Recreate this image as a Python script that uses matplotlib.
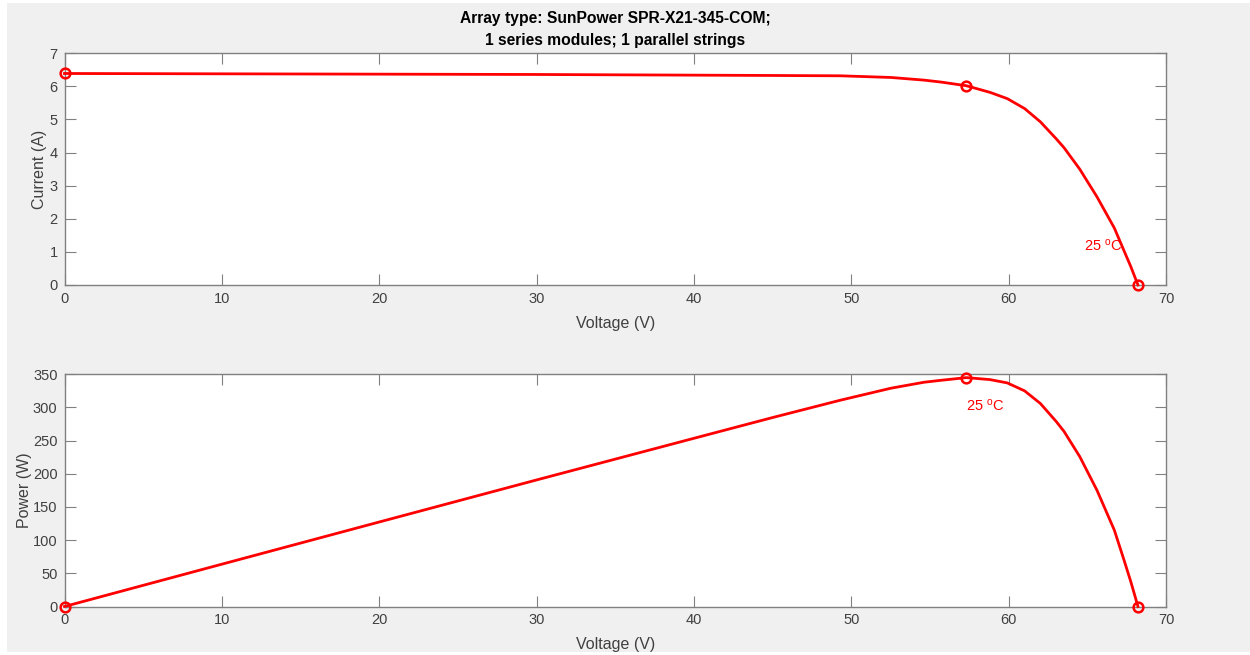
import matplotlib
matplotlib.use("Agg")
import matplotlib.pyplot as plt
from matplotlib.patches import Rectangle

plt.rcParams['font.family'] = ['Liberation Sans', 'DejaVu Sans']
plt.rcParams['mathtext.default'] = 'regular'

# Data
voltage = [0, 10, 20, 30, 40, 45, 49.3, 52.5, 54.6, 55.7, 57.3, 58.8, 59.9,
           61, 62, 63, 63.5, 64.5, 65.6, 66.7, 67.3, 67.75, 68.2]
current = [6.39, 6.38, 6.37, 6.36, 6.34, 6.33, 6.32, 6.27, 6.19, 6.13, 6.02,
           5.82, 5.63, 5.33, 4.93, 4.42, 4.15, 3.50, 2.66, 1.72, 1.05, 0.55, 0.0]
power = [0, 63.8, 127.4, 190.8, 253.6, 284.9, 311, 329, 338, 341, 345, 342,
         337, 325, 306, 279, 264, 226, 175, 115, 71, 37, 0]

# key points: short circuit, max power, open circuit
key_v = [0, 57.3, 68.2]
key_i = [6.39, 6.02, 0]
key_p = [0, 345, 0]

title_lines = ["Array type: SunPower SPR-X21-345-COM;",
               "1 series modules; 1 parallel strings"]
temp_label = r"25 $^{o}$C"
x_ticks = [0, 10, 20, 30, 40, 50, 60, 70]
i_ticks = [0, 1, 2, 3, 4, 5, 6, 7]
p_ticks = [0, 50, 100, 150, 200, 250, 300, 350]

W, H = 1250, 655
fig = plt.figure(figsize=(12.5, 6.55), dpi=100)
fig.patch.set_facecolor('white')
fig.patches.append(Rectangle((7 / W, 3 / H), (W - 7) / W, (H - 6) / H,
                             transform=fig.transFigure, facecolor='#f0f0f0',
                             edgecolor='none', zorder=-10))

spine_c = '#808080'
text_c = '#404040'
red = '#ff0000'

ax1 = fig.add_axes([64.5 / W, 1 - 285 / H, (1166.3 - 64.5) / W, (285 - 53.3) / H])
ax2 = fig.add_axes([64.5 / W, 1 - 606.5 / H, (1166.3 - 64.5) / W, (606.5 - 374.3) / H])

for ax, y, ky, yticks, ylim, ylabel, lp in [
        (ax1, current, key_i, i_ticks, (0, 7), 'Current (A)', 1.5),
        (ax2, power, key_p, p_ticks, (0, 350), 'Power (W)', 1.0)]:
    ax.set_facecolor('white')
    ax.plot(voltage, y, color=red, lw=2.0, zorder=3, clip_on=False,
            solid_joinstyle='round')
    ax.plot(key_v, ky, 'o', mfc='none', mec=red, ms=7, mew=1.8, zorder=4,
            clip_on=False)
    ax.set_xlim(0, 70)
    ax.set_ylim(*ylim)
    ax.set_xticks(x_ticks)
    ax.set_yticks(yticks)
    ax.tick_params(direction='in', length=8, width=0.8, color=spine_c,
                   top=True, right=True, labelsize=10.5, labelcolor=text_c,
                   pad=5)
    for s in ax.spines.values():
        s.set_color(spine_c)
        s.set_linewidth(1.0)
    ax.set_xlabel('Voltage (V)', fontsize=11.5, color=text_c, labelpad=7)
    ax.set_ylabel(ylabel, fontsize=11.5, color=text_c, labelpad=lp)

ax1.text(64.8, 0.96, temp_label, color=red, fontsize=10.5, ha='left', va='bottom')
ax2.text(57.3, 291, temp_label, color=red, fontsize=10.5, ha='left', va='bottom')

ax1.set_title("\n".join(title_lines), fontsize=11.25, fontweight='bold',
              color='#000000', pad=6, linespacing=1.6)

fig.savefig('out.png', dpi=100, facecolor=fig.get_facecolor())
